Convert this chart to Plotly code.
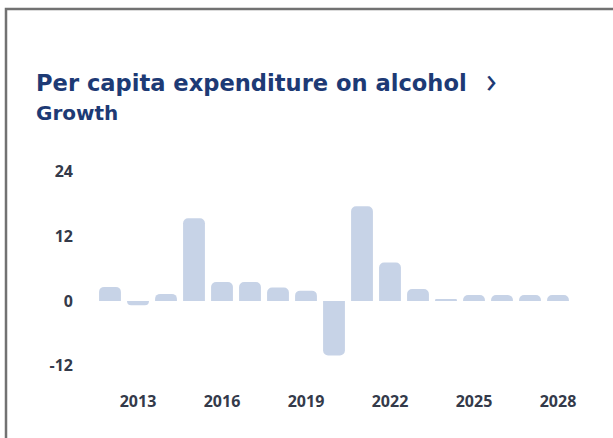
import plotly.graph_objects as go

# Annual growth of per capita expenditure on alcohol (%)
years = list(range(2012, 2029))
growth = [2.6, -0.8, 1.3, 15.3, 3.5, 3.5, 2.5, 1.9, -10.1, 17.5, 7.1, 2.2, 0.2, 1.1, 1.1, 1.1, 1.1]

x_ticks = [2013, 2016, 2019, 2022, 2025, 2028]
y_ticks = [-12, 0, 12, 24]

title_text = "Per capita expenditure on alcohol"
subtitle_text = "Growth"

W, H = 613, 438
ML, MR, MT, MB = 96, 41, 155, 56
PW, PH = W - ML - MR, H - MT - MB


def px_x(px):
    return (px - ML) / PW


def px_y(py):
    return (H - MB - py) / PH


HEAD_FONT = "DejaVu Sans"
TICK_FONT = "Open Sans"
NAVY = "#1d3a75"
INK = "#343a4a"

fig = go.Figure(
    go.Bar(
        x=years,
        y=growth,
        marker=dict(color="#c7d3e7", cornerradius=5, line=dict(width=0)),
        width=0.78,
        hoverinfo="x+y",
    )
)

fig.update_layout(
    width=W,
    height=H,
    margin=dict(l=ML, r=MR, t=MT, b=MB),
    paper_bgcolor="white",
    plot_bgcolor="white",
    showlegend=False,
    font=dict(family=TICK_FONT, color=INK),
    xaxis=dict(
        range=[2011.5, 2028.5],
        tickvals=x_ticks,
        ticktext=[str(v) for v in x_ticks],
        showgrid=False,
        zeroline=False,
        showline=False,
        ticks="",
        ticklabelstandoff=8,
        tickfont=dict(family=TICK_FONT, size=16, color=INK, weight=700),
    ),
    yaxis=dict(
        range=[-15, 27],
        tickvals=y_ticks,
        ticktext=[str(v) for v in y_ticks],
        showgrid=False,
        zeroline=False,
        showline=False,
        ticks="",
        ticklabelstandoff=22,
        tickfont=dict(family=TICK_FONT, size=16, color=INK, weight=700),
    ),
    shapes=[
        dict(
            type="rect",
            xref="paper",
            yref="paper",
            x0=px_x(6),
            x1=px_x(630),
            y0=px_y(9),
            y1=px_y(450),
            line=dict(color="#727272", width=2.5),
            fillcolor="rgba(0,0,0,0)",
            layer="above",
        )
    ],
    annotations=[
        dict(
            text=title_text,
            xref="paper",
            yref="paper",
            x=px_x(34),
            y=px_y(83),
            xanchor="left",
            yanchor="middle",
            showarrow=False,
            font=dict(family=HEAD_FONT, size=22.6, color=NAVY, weight=700),
        ),
        dict(
            text="›",
            xref="paper",
            yref="paper",
            x=px_x(491),
            y=px_y(79),
            xanchor="center",
            yanchor="middle",
            showarrow=False,
            font=dict(family=TICK_FONT, size=36, color=NAVY, weight=400),
        ),
        dict(
            text=subtitle_text,
            xref="paper",
            yref="paper",
            x=px_x(34),
            y=px_y(113),
            xanchor="left",
            yanchor="middle",
            showarrow=False,
            font=dict(family=HEAD_FONT, size=20, color=NAVY, weight=700),
        ),
    ],
)

fig.write_html("out.html")
